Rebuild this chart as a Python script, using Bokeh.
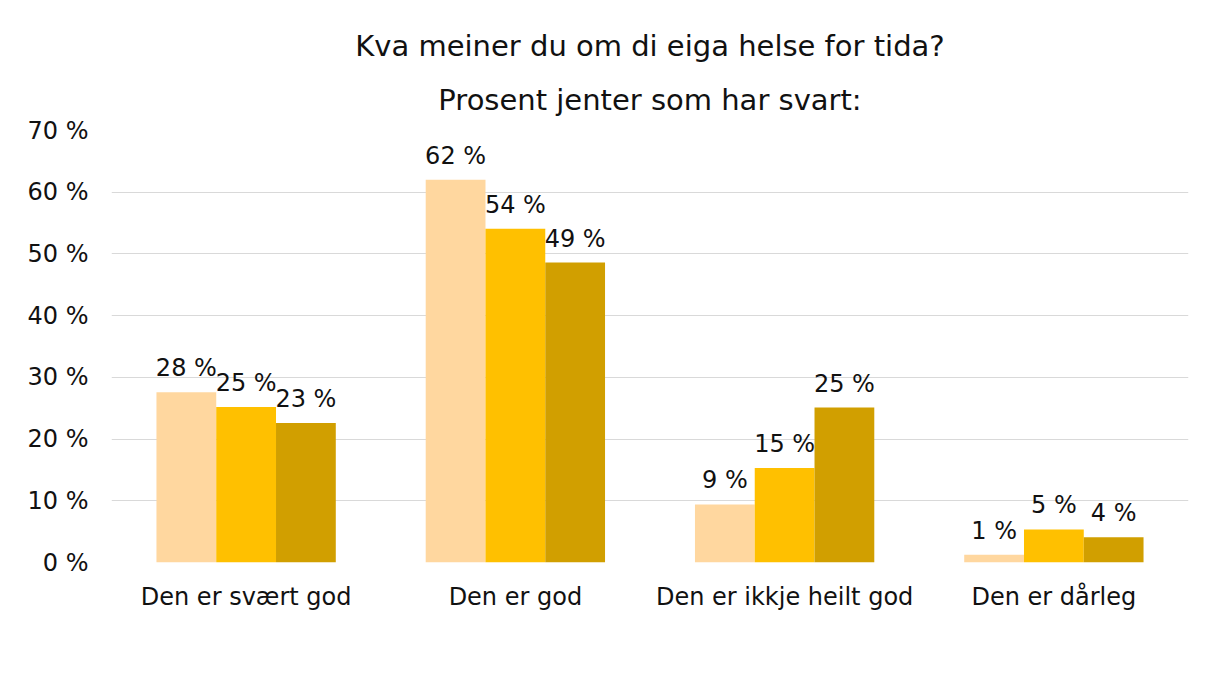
from bokeh.plotting import figure
from bokeh.models import (ColumnDataSource, LabelSet, Legend, LegendItem, Title,
                          FixedTicker, PrintfTickFormatter)
from bokeh.core.properties import value
from bokeh.embed import file_html
from bokeh.resources import INLINE

categories = ["Den er svært god", "Den er god", "Den er ikkje heilt god", "Den er dårleg"]
series_names = ["2011 (berre 6. og 8. trinn)", "2013", "2015"]
v2011 = [27.6, 62.0, 9.4, 1.25]
v2013 = [25.2, 54.1, 15.3, 5.35]
v2015 = [22.6, 48.6, 25.1, 4.1]
y_ticks = [0, 10, 20, 30, 40, 50, 60, 70]
title_lines = ["Kva meiner du om di eiga helse for tida?", "Prosent jenter som har svart:"]

colors = ["#FFD79F", "#FFC000", "#D19F00"]
FONT = "DejaVu Sans"
TXT = "#111111"

bw = 0.222
offs = [-bw, 0.0, bw]
series = [v2011, v2013, v2015]
idx = list(range(len(categories)))

p = figure(x_range=(-0.5, len(categories) - 0.5), y_range=(0, 70),
           frame_width=1077, frame_height=432,
           output_backend="svg", toolbar_location=None, title=title_lines[0],
           min_border_left=111, min_border_right=17,
           min_border_top=130, min_border_bottom=0)
p.title.align = "center"
p.title.standoff = 8
p.title.text_font = FONT
p.title.text_font_size = "29px"
p.title.text_font_style = "normal"
p.title.text_color = TXT
p.add_layout(Title(text=title_lines[1], align="center", standoff=28,
                   text_font=FONT, text_font_size="29px", text_font_style="normal",
                   text_color=TXT), "above")
p.outline_line_color = None

rends = []
for vals, off, c in zip(series, offs, colors):
    src = ColumnDataSource(dict(x=[i + off for i in idx], top=vals,
                                lab=[f"{round(v)} %" for v in vals]))
    r = p.vbar(x="x", top="top", width=bw, source=src, fill_color=c, line_color=None)
    rends.append(r)
    p.add_layout(LabelSet(x="x", y="top", text="lab", source=src,
                          text_align="center", text_baseline="alphabetic", y_offset=16,
                          text_font=value(FONT), text_font_size=value("24px"),
                          text_color=TXT))

p.xaxis.ticker = FixedTicker(ticks=idx)
p.xaxis.major_label_overrides = {i: c for i, c in zip(idx, categories)}
p.yaxis.ticker = FixedTicker(ticks=y_ticks)
p.yaxis.formatter = PrintfTickFormatter(format="%d %%")
for ax in (p.xaxis, p.yaxis):
    ax.axis_line_color = None
    ax.major_tick_line_color = None
    ax.minor_tick_line_color = None
    ax.major_tick_out = 0
    ax.major_tick_in = 0
    ax.minor_tick_out = 0
    ax.minor_tick_in = 0
    ax.major_label_text_font = FONT
    ax.major_label_text_font_size = "24px"
    ax.major_label_text_color = TXT
p.yaxis.major_label_standoff = 23
p.xaxis.major_label_standoff = 20
p.xgrid.grid_line_color = None
p.ygrid.grid_line_color = "#D9D9D9"
p.ygrid.grid_line_width = 1

legend = Legend(items=[LegendItem(label=n, renderers=[r]) for n, r in zip(series_names, rends)],
                orientation="horizontal", location="center",
                glyph_width=12, glyph_height=12, label_standoff=4, spacing=26,
                label_text_font=FONT, label_text_font_size="24px", label_text_color=TXT,
                border_line_color=None, background_fill_alpha=0, margin=10, padding=11)
p.add_layout(legend, "below")

open("out.html", "w").write(file_html(p, INLINE))
